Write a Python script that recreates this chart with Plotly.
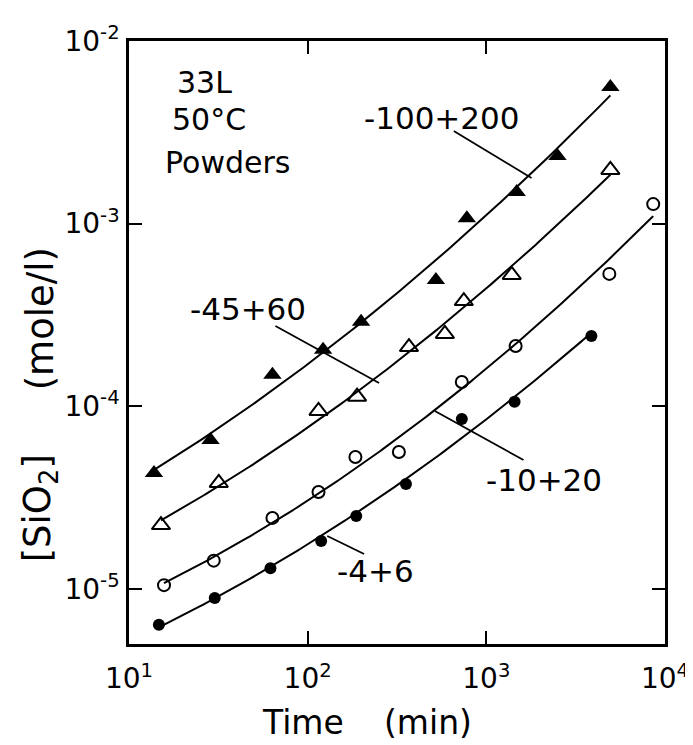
import numpy as np
import plotly.graph_objects as go

# ---- data (time in min, [SiO2] in mole/l) ----
t_100_200 = [13.8, 28.6, 63.5, 122, 199, 522, 778, 1479, 2502, 4945]
c_100_200 = [4.31e-5, 6.55e-5, 1.49e-4, 2.04e-4, 2.90e-4, 4.92e-4, 1.07e-3, 1.49e-3, 2.35e-3, 5.60e-3]

t_45_60 = [15.1, 31.8, 115, 189, 369, 586, 748, 1387, 4945]
c_45_60 = [2.24e-5, 3.81e-5, 9.44e-5, 1.13e-4, 2.11e-4, 2.49e-4, 3.77e-4, 5.24e-4, 1.97e-3]

t_10_20 = [15.7, 29.8, 63.5, 115, 185, 324, 729, 1459, 4880, 8590]
c_10_20 = [1.05e-5, 1.43e-5, 2.45e-5, 3.40e-5, 5.28e-5, 5.62e-5, 1.36e-4, 2.14e-4, 5.31e-4, 1.28e-3]

t_4_6 = [14.7, 30.2, 61.9, 119, 187, 355, 729, 1439, 3873]
c_4_6 = [6.37e-6, 8.94e-6, 1.30e-5, 1.83e-5, 2.51e-5, 3.76e-5, 8.53e-5, 1.06e-4, 2.43e-4]

x_tickvals = [10, 100, 1000, 10000]
x_ticktext = ["10<sup>1</sup>", "10<sup>2</sup>", "10<sup>3</sup>", "10<sup>4</sup>"]
y_tickvals = [1e-5, 1e-4, 1e-3, 1e-2]
y_ticktext = ["10<sup>-5</sup>", "10<sup>-4</sup>", "10<sup>-3</sup>", "10<sup>-2</sup>"]

FONT = "DejaVu Sans"
W, H = 693, 745
ML, MR, MT, MB = 121, 34, 33, 109


def fx(p):
    return (p - ML) / (W - ML - MR)


def fy(p):
    return (H - MB - p) / (H - MT - MB)


def fit_curve(t, c, n=200):
    lt, lc = np.log10(t), np.log10(c)
    coef = np.polyfit(lt, lc, 2)
    xs = np.linspace(lt.min(), lt.max(), n)
    return 10 ** xs, 10 ** np.polyval(coef, xs)


series = [
    (t_100_200, c_100_200, dict(symbol="triangle-up", size=16, color="black")),
    (t_45_60, c_45_60, dict(symbol="triangle-up-open", size=16, color="black", line=dict(width=2, color="black"))),
    (t_10_20, c_10_20, dict(symbol="circle-open", size=12, color="black", line=dict(width=2, color="black"))),
    (t_4_6, c_4_6, dict(symbol="circle", size=12, color="black")),
]

fig = go.Figure()
for t, c, mk in series:
    xs, ys = fit_curve(t, c)
    fig.add_trace(go.Scatter(x=xs, y=ys, mode="lines", line=dict(color="black", width=2),
                             showlegend=False, hoverinfo="skip"))
    fig.add_trace(go.Scatter(x=t, y=c, mode="markers", marker=mk, showlegend=False))

axis_common = dict(
    type="log", showgrid=False, zeroline=False, showline=True, linecolor="black",
    linewidth=2.5, mirror="ticks", ticks="inside", ticklen=13, tickwidth=2,
    tickcolor="black", tickfont=dict(family=FONT, size=28, color="black"),
)
fig.update_xaxes(range=[1, 4], tickvals=x_tickvals, ticktext=x_ticktext,
                 ticklabelstandoff=8, **axis_common)
fig.update_yaxes(range=[np.log10(5.0e-6), -2], tickvals=y_tickvals, ticktext=y_ticktext,
                 ticklabelstandoff=1, **axis_common)

# text labels
texts = [
    ("33L", 197, 74, 30),
    ("50°C", 201, 112, 30),
    ("Powders", 220, 154, 30),
    ("-100+200", 435, 110, 31),
    ("-45+60", 240, 301, 31),
    ("-10+20", 538, 472, 31),
    ("-4+6", 368, 563, 31),
    ("Time", 296, 714, 33),
    ("(min)", 421, 714, 33),
]
for s, x, y, sz in texts:
    fig.add_annotation(text=s, x=fx(x), y=fy(y), xref="paper", yref="paper",
                       showarrow=False, xanchor="center", yanchor="middle",
                       font=dict(family=FONT, size=sz, color="black"))

# rotated y title
for s, y in [("(mole/l)", 311), ("[SiO<sub>2</sub>]", 500)]:
    fig.add_annotation(text=s, x=fx(32), y=fy(y), xref="paper", yref="paper",
                       showarrow=False, textangle=-90, xanchor="center", yanchor="middle",
                       font=dict(family=FONT, size=37, color="black"))

# leader lines
leaders = [
    (447, 123, 525, 170),
    (268, 318, 372, 375),
    (428, 403, 517, 452),
    (320, 528, 357, 546),
]
for x0, y0, x1, y1 in leaders:
    fig.add_shape(type="line", xref="paper", yref="paper",
                  x0=fx(x0), y0=fy(y0), x1=fx(x1), y1=fy(y1),
                  line=dict(color="black", width=1.8))

fig.update_layout(
    width=W, height=H, margin=dict(l=ML, r=MR, t=MT, b=MB),
    plot_bgcolor="white", paper_bgcolor="white", showlegend=False,
)
fig.write_html("out.html")
